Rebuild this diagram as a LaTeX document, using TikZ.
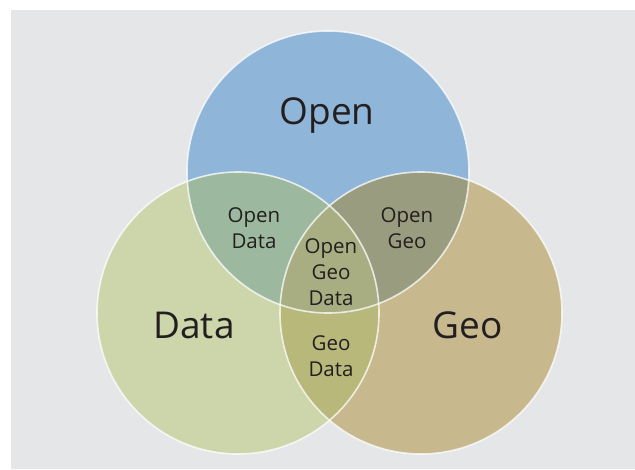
\documentclass[tikz,border=0pt]{standalone}
\usepackage{fontspec}
\setmainfont{Open Sans}
\usepackage{tikz}
\usetikzlibrary{positioning}

\definecolor{bggrey}{HTML}{E5E6E8}
\definecolor{openblue}{HTML}{8FB5D8}
\definecolor{datagreen}{HTML}{CDD5AB}
\definecolor{geotan}{HTML}{C7B98D}
\definecolor{opendata}{HTML}{9CB99F}
\definecolor{opengeo}{HTML}{9A9C7F}
\definecolor{geodata}{HTML}{B8B87B}
\definecolor{opengeodata}{HTML}{A8AE82}
\definecolor{labeltext}{HTML}{231F20}

\tikzset{
  biglabel/.style={text=labeltext,font=\fontsize{37}{40}\selectfont,inner sep=0pt},
  smalllabel/.style={text=labeltext,font=\fontsize{20.5}{26}\selectfont,align=center,inner sep=0pt},
  rim/.style={draw=white,draw opacity=0.75,line width=1.6pt}
}

\begin{document}
\begin{tikzpicture}[x=1pt,y=-1pt]
    \useasboundingbox (0,0) rectangle (635,469);
    \fill[bggrey] (11,10) rectangle (635,469);

    % the three sets
    \def\rad{141}
    \coordinate (open) at (328,172);
    \coordinate (data) at (238,313);
    \coordinate (geo) at (421,313);

    \fill[openblue] (open) circle (\rad);
    \fill[datagreen] (data) circle (\rad);
    \fill[geotan] (geo) circle (\rad);

    % overlaps
    \begin{scope}
      \clip (open) circle (\rad);
      \fill[opendata] (data) circle (\rad);
      \fill[opengeo] (geo) circle (\rad);
    \end{scope}
    \begin{scope}
      \clip (data) circle (\rad);
      \fill[geodata] (geo) circle (\rad);
      \clip (geo) circle (\rad);
      \fill[opengeodata] (open) circle (\rad);
    \end{scope}

    \draw[rim] (open) circle (\rad);
    \draw[rim] (data) circle (\rad);
    \draw[rim] (geo) circle (\rad);

    \node [biglabel,anchor=base] (openlbl) at (327,124) {Open};
    \node [biglabel,anchor=base] (datalbl) at (194,338) {Data};
    \node [biglabel,anchor=base] (geolbl) at (468,338) {Geo};

    \node [smalllabel] (od) at (254,228) {Open\\Data};
    \node [smalllabel] (og) at (407,228) {Open\\Geo};
    \node [smalllabel] (ogd) at (331,272) {Open\\Geo\\Data};
    \node [smalllabel] (gd) at (331,356) {Geo\\Data};
  \end{tikzpicture}
\end{document}
